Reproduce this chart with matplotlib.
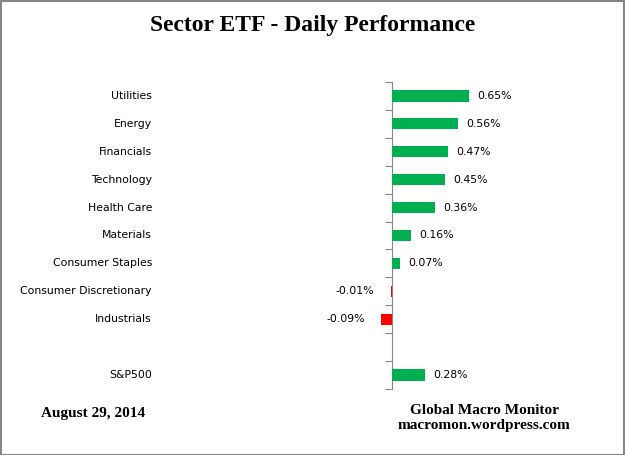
import numpy as np
import matplotlib.pyplot as plt
from matplotlib import transforms

sectors = ["Utilities", "Energy", "Financials", "Technology", "Health Care",
           "Materials", "Consumer Staples", "Consumer Discretionary",
           "Industrials", "", "S&P500"]
changes = [0.65, 0.56, 0.47, 0.45, 0.36, 0.16, 0.07, -0.01, -0.09, np.nan, 0.28]
value_labels = ["0.65%", "0.56%", "0.47%", "0.45%", "0.36%", "0.16%", "0.07%",
                "-0.01%", "-0.09%", "", "0.28%"]

green = "#00B050"
red = "#FF0000"

fig = plt.figure(figsize=(6.25, 4.55), dpi=100)
ax = fig.add_axes([160 / 625, 66 / 455, 440 / 625, 307 / 455])

pos = np.arange(len(sectors))
vals = np.array(changes, dtype=float)
colors = [green if v >= 0 else red for v in np.nan_to_num(vals)]
ax.barh(pos, np.nan_to_num(vals), height=0.4, color=colors, zorder=3)

ax.set_xlim(-232 / 118.5, 208 / 118.5)
ax.set_ylim(len(sectors) - 0.5, -0.5)

for s in ["top", "right", "bottom"]:
    ax.spines[s].set_visible(False)
ax.spines["left"].set_position(("data", 0))
ax.spines["left"].set_color("#868686")
ax.spines["left"].set_zorder(2)
ax.set_xticks([])
ax.set_yticks(np.arange(len(sectors) + 1) - 0.5)
ax.set_yticklabels([])
ax.tick_params(axis="y", direction="out", length=5, color="#868686")

lab_tr = transforms.blended_transform_factory(fig.transFigure, ax.transData)
for p, name in zip(pos, sectors):
    ax.text(152 / 625, p, name, transform=lab_tr, ha="right", va="center",
            fontsize=7.8, color="#000000")

for p, v, t in zip(pos, vals, value_labels):
    if np.isnan(v):
        continue
    if v >= 0:
        ax.annotate(t, (v, p), xytext=(6, 0), textcoords="offset points",
                    ha="left", va="center", fontsize=7.8)
    else:
        ax.annotate(t, (v, p), xytext=(-12, 0), textcoords="offset points",
                    ha="right", va="center", fontsize=7.8)

fig.text(0.5, 1 - 26 / 455, "Sector ETF - Daily Performance", ha="center",
         va="center", fontsize=17, fontweight="bold", family="Liberation Serif")
fig.text(93 / 625, 1 - 413 / 455, "August 29, 2014", ha="center", va="center",
         fontsize=11, fontweight="bold", family="Liberation Serif")
fig.text(484 / 625, 1 - 418 / 455, "Global Macro Monitor\nmacromon.wordpress.com",
         ha="center", va="center", fontsize=11, fontweight="bold",
         family="Liberation Serif", linespacing=1.25)

fig.patches.append(plt.Rectangle((0.001, 0.001), 0.997, 0.997, transform=fig.transFigure,
                                 fill=False, edgecolor="#868686", linewidth=1.5))

fig.savefig("out.png", dpi=100)
